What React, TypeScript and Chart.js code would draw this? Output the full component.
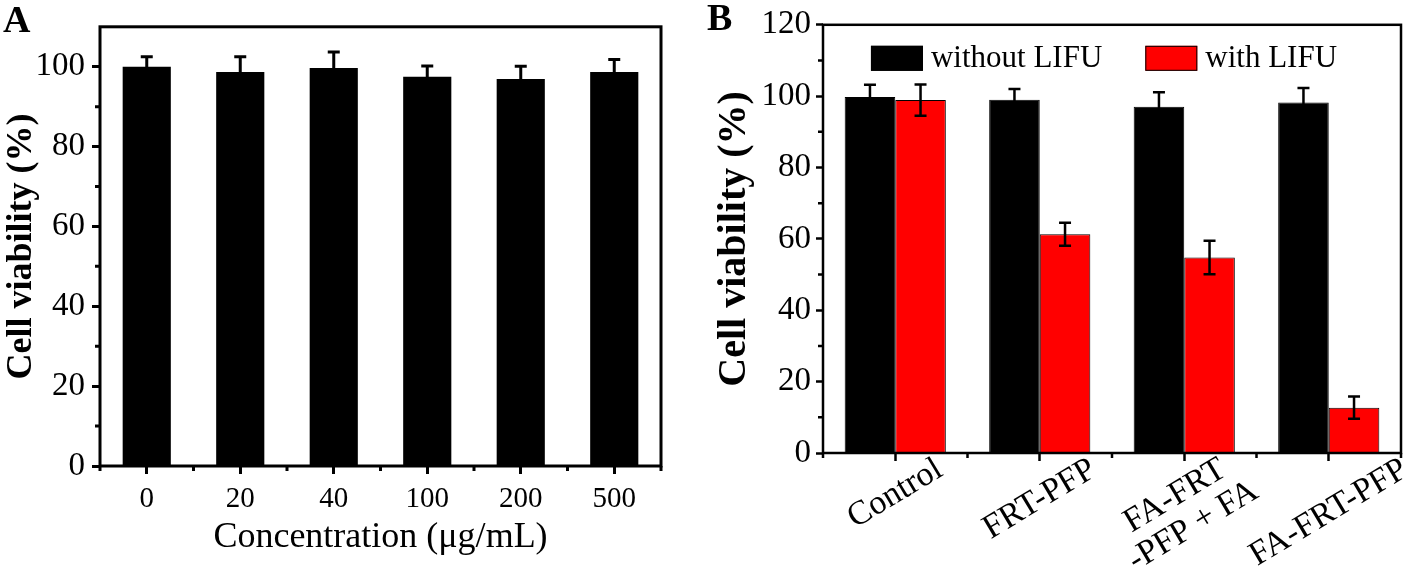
import React, { useEffect, useRef } from 'react';
import { Chart, registerables } from 'chart.js';

Chart.register(...registerables);

const FONT = "'Liberation Serif', 'Times New Roman', Times, serif";

// Panel A data
const CONC_LABELS = ['0', '20', '40', '100', '200', '500'];
const CONC_VIABILITY = [100.0, 98.7, 99.7, 97.5, 96.9, 98.7];
const CONC_ERR = [2.5, 3.8, 4.0, 2.7, 3.2, 3.1];
const Y_TICKS_A = [0, 20, 40, 60, 80, 100];
const Y_MINOR_A = [10, 30, 50, 70, 90];

// Panel B data
const GROUP_LABELS = [['Control'], ['FRT-PFP'], ['FA-FRT', '-PFP + FA'], ['FA-FRT-PFP']];
const SERIES_NAMES = ['without LIFU', 'with LIFU'];
const WITHOUT_LIFU = [99.8, 99.0, 97.0, 98.2];
const WITHOUT_LIFU_ERR = [3.4, 3.0, 4.1, 4.1];
const WITH_LIFU = [98.9, 61.3, 54.8, 12.7];
const WITH_LIFU_ERR = [4.4, 3.2, 4.7, 3.1];
const Y_TICKS_B = [0, 20, 40, 60, 80, 100, 120];
const Y_MINOR_B = [10, 30, 50, 70, 90, 110];

const valOf = (d: any) => (typeof d === 'number' ? d : d.y);

const errorBarPlugin = {
  id: 'errorBars',
  afterDatasetsDraw(chart: any, _args: any, opts: any) {
    const { ctx } = chart;
    const ys = chart.scales.y;
    chart.data.datasets.forEach((ds: any, di: number) => {
      const meta = chart.getDatasetMeta(di);
      const errs = ds.errors || [];
      meta.data.forEach((bar: any, i: number) => {
        const v = valOf(ds.data[i]);
        const e = errs[i] || 0;
        const x = bar.x;
        const yt = ys.getPixelForValue(v + e);
        const yb = ys.getPixelForValue(v - e);
        ctx.save();
        ctx.strokeStyle = '#000';
        ctx.lineWidth = opts.lineWidth || 2;
        ctx.beginPath();
        ctx.moveTo(x, yt);
        ctx.lineTo(x, yb);
        const c = (opts.cap || 12) / 2;
        ctx.moveTo(x - c, yt);
        ctx.lineTo(x + c, yt);
        ctx.moveTo(x - c, yb);
        ctx.lineTo(x + c, yb);
        ctx.stroke();
        ctx.restore();
      });
    });
  },
};

const framePlugin = {
  id: 'frame',
  afterDraw(chart: any, _args: any, opts: any) {
    const { ctx, chartArea: a } = chart;
    const xs = chart.scales.x;
    const ys = chart.scales.y;
    ctx.save();
    ctx.strokeStyle = '#000';
    ctx.lineWidth = opts.minorWidth || 2;
    ctx.beginPath();
    (opts.minorY || []).forEach((v: number) => {
      const p = ys.getPixelForValue(v);
      ctx.moveTo(a.left - opts.minorLen, p);
      ctx.lineTo(a.left, p);
    });
    (opts.minorX || []).forEach((v: number) => {
      const p = xs.getPixelForValue(v);
      ctx.moveTo(p, a.bottom);
      ctx.lineTo(p, a.bottom + opts.minorLen);
    });
    ctx.stroke();
    ctx.lineWidth = opts.lineWidth || 2;
    ctx.strokeRect(a.left, a.top, a.right - a.left, a.bottom - a.top);
    ctx.restore();
  },
};

const insideLegendPlugin = {
  id: 'insideLegend',
  afterDraw(chart: any, _args: any, opts: any) {
    const { ctx, chartArea: a } = chart;
    ctx.save();
    ctx.font = `${opts.fontSize}px ${FONT}`;
    const items = chart.data.datasets.map((ds: any) => ({
      text: ds.label,
      color: ds.backgroundColor,
      w: ctx.measureText(ds.label).width,
    }));
    const total = items.reduce((s: number, it: any) => s + opts.boxW + opts.gap + it.w, 0) + opts.spacing * (items.length - 1);
    let x = (a.left + a.right) / 2 + opts.shift - total / 2;
    const top = a.top + opts.top;
    const cy = top + opts.boxH / 2;
    items.forEach((it: any) => {
      ctx.fillStyle = it.color;
      ctx.fillRect(x, top, opts.boxW, opts.boxH);
      ctx.strokeStyle = '#000';
      ctx.lineWidth = 1;
      ctx.strokeRect(x + 0.5, top + 0.5, opts.boxW - 1, opts.boxH - 1);
      ctx.fillStyle = '#000';
      ctx.textAlign = 'left';
      ctx.textBaseline = 'middle';
      ctx.fillText(it.text, x + opts.boxW + opts.gap, cy + 1);
      x += opts.boxW + opts.gap + it.w + opts.spacing;
    });
    ctx.restore();
  },
};

const rotatedLabelsPlugin = {
  id: 'rotatedLabels',
  afterDraw(chart: any, _args: any, opts: any) {
    const { ctx } = chart;
    const xs = chart.scales.x;
    const th = (opts.angle * Math.PI) / 180;
    ctx.save();
    ctx.font = `${opts.fontSize}px ${FONT}`;
    ctx.fillStyle = '#000';
    ctx.textAlign = 'center';
    ctx.textBaseline = 'middle';
    opts.labels.forEach((lines: string[], i: number) => {
      const px = xs.getPixelForValue(i);
      const w1 = ctx.measureText(lines[0]).width;
      const n = lines.length;
      const cx = px + opts.dx;
      const cy = opts.endY + (w1 / 2) * Math.sin(th) + ((n - 1) * opts.lineH / 2) * Math.cos(th);
      ctx.save();
      ctx.translate(cx, cy);
      ctx.rotate(-th);
      lines.forEach((ln, k) => {
        ctx.fillText(ln, 0, (k - (n - 1) / 2) * opts.lineH);
      });
      ctx.restore();
    });
    ctx.restore();
  },
};

export default function App() {
  const aRef = useRef<HTMLCanvasElement>(null);
  const bRef = useRef<HTMLCanvasElement>(null);

  useEffect(() => {
    const chartA = new Chart(aRef.current as HTMLCanvasElement, {
      type: 'bar',
      data: {
        labels: CONC_LABELS,
        datasets: [
          {
            data: CONC_VIABILITY,
            errors: CONC_ERR,
            backgroundColor: '#000',
            borderWidth: 0,
            categoryPercentage: 1,
            barPercentage: 0.515,
          } as any,
        ],
      },
      options: {
        responsive: false,
        animation: false,
        layout: { padding: { top: 12, right: 39, bottom: 0, left: 0 } },
        plugins: {
          legend: { display: false },
          tooltip: { enabled: false },
          frame: { lineWidth: 3, minorWidth: 3, minorLen: 5, minorY: Y_MINOR_A, minorX: [-0.5, 0.5, 1.5, 2.5, 3.5, 4.5, 5.5] },
          errorBars: { lineWidth: 3, cap: 12 },
        } as any,
        scales: {
          x: {
            type: 'category',
            offset: true,
            grid: { display: true, drawOnChartArea: false, offset: false, tickLength: 8, tickWidth: 3, tickColor: '#000', color: '#000' },
            border: { display: false },
            ticks: { color: '#000', font: { family: FONT, size: 29 }, padding: 8, maxRotation: 0, autoSkip: false },
            title: { display: true, text: 'Concentration (μg/mL)', color: '#000', font: { family: FONT, size: 36 }, padding: { top: 0, bottom: 12 } },
            afterFit: (s: any) => { s.height = 105; },
          } as any,
          y: {
            min: 0,
            max: 110,
            afterBuildTicks: (s: any) => { s.ticks = Y_TICKS_A.map((v) => ({ value: v })); },
            grid: { display: true, drawOnChartArea: false, tickLength: 8, tickWidth: 3, tickColor: '#000', color: '#000' },
            border: { display: false },
            ticks: { color: '#000', font: { family: FONT, size: 33 }, padding: 7 },
            title: { display: true, text: 'Cell viability (%)', color: '#000', font: { family: FONT, size: 36, weight: 'bold' }, padding: { top: 0, bottom: 0 } },
            afterFit: (s: any) => { s.width = 100; },
          } as any,
        },
      },
      plugins: [errorBarPlugin, framePlugin],
    });

    const chartB = new Chart(bRef.current as HTMLCanvasElement, {
      type: 'bar',
      data: {
        datasets: [
          {
            label: SERIES_NAMES[0],
            data: WITHOUT_LIFU.map((v, i) => ({ x: i, y: v })),
            errors: WITHOUT_LIFU_ERR,
            backgroundColor: '#000000',
            borderColor: '#000',
            borderWidth: 1,
            categoryPercentage: 0.7,
            barPercentage: 1,
          } as any,
          {
            label: SERIES_NAMES[1],
            data: WITH_LIFU.map((v, i) => ({ x: i, y: v })),
            errors: WITH_LIFU_ERR,
            backgroundColor: '#ff0000',
            borderColor: '#000',
            borderWidth: 1,
            categoryPercentage: 0.7,
            barPercentage: 1,
          } as any,
        ],
      },
      options: {
        responsive: false,
        animation: false,
        layout: { padding: { top: 15, right: 17, bottom: 0, left: 0 } },
        plugins: {
          legend: { display: false },
          tooltip: { enabled: false },
          frame: { lineWidth: 2.5, minorWidth: 2.5, minorLen: 5, minorY: Y_MINOR_B, minorX: [-0.5, 0.5, 1.5, 2.5, 3.5] },
          errorBars: { lineWidth: 2.5, cap: 12 },
          insideLegend: { fontSize: 31, boxW: 52, boxH: 25, gap: 8, spacing: 43, top: 21, shift: -8 },
          rotatedLabels: { labels: GROUP_LABELS, fontSize: 34, angle: 31, dx: 0, endY: 467, lineH: 35 },
        } as any,
        scales: {
          x: {
            type: 'linear',
            min: -0.5,
            max: 3.5,
            offset: false,
            afterBuildTicks: (s: any) => { s.ticks = [0, 1, 2, 3].map((v) => ({ value: v })); },
            grid: { display: true, drawOnChartArea: false, offset: false, tickLength: 8, tickWidth: 2.5, tickColor: '#000', color: '#000' },
            border: { display: false },
            ticks: { display: false },
            afterFit: (s: any) => { s.height = 118; },
          } as any,
          y: {
            min: 0,
            max: 120,
            afterBuildTicks: (s: any) => { s.ticks = Y_TICKS_B.map((v) => ({ value: v })); },
            grid: { display: true, drawOnChartArea: false, tickLength: 7, tickWidth: 2.5, tickColor: '#000', color: '#000' },
            border: { display: false },
            ticks: { color: '#000', font: { family: FONT, size: 33 }, padding: 5 },
            title: { display: true, text: 'Cell viability (%)', color: '#000', font: { family: FONT, size: 40, weight: 'bold' }, padding: { top: 11, bottom: 0 } },
            afterFit: (s: any) => { s.width = 123; },
          } as any,
        },
      },
      plugins: [errorBarPlugin, framePlugin, insideLegendPlugin, rotatedLabelsPlugin],
    });

    return () => {
      chartA.destroy();
      chartB.destroy();
    };
  }, []);

  const letter: React.CSSProperties = {
    position: 'absolute',
    top: 0,
    font: `bold 38px ${FONT}`,
    lineHeight: '38px',
    color: '#000',
  };

  return (
    <div style={{ position: 'absolute', left: 0, top: 0, width: 1418, height: 571, background: '#fff', overflow: 'hidden' }}>
      <canvas ref={aRef} width={700} height={571} style={{ position: 'absolute', left: 0, top: 0 }} />
      <canvas ref={bRef} width={718} height={571} style={{ position: 'absolute', left: 700, top: 0 }} />
      <div style={{ ...letter, left: 3 }}>A</div>
      <div style={{ ...letter, left: 707, top: -2 }}>B</div>
    </div>
  );
}
